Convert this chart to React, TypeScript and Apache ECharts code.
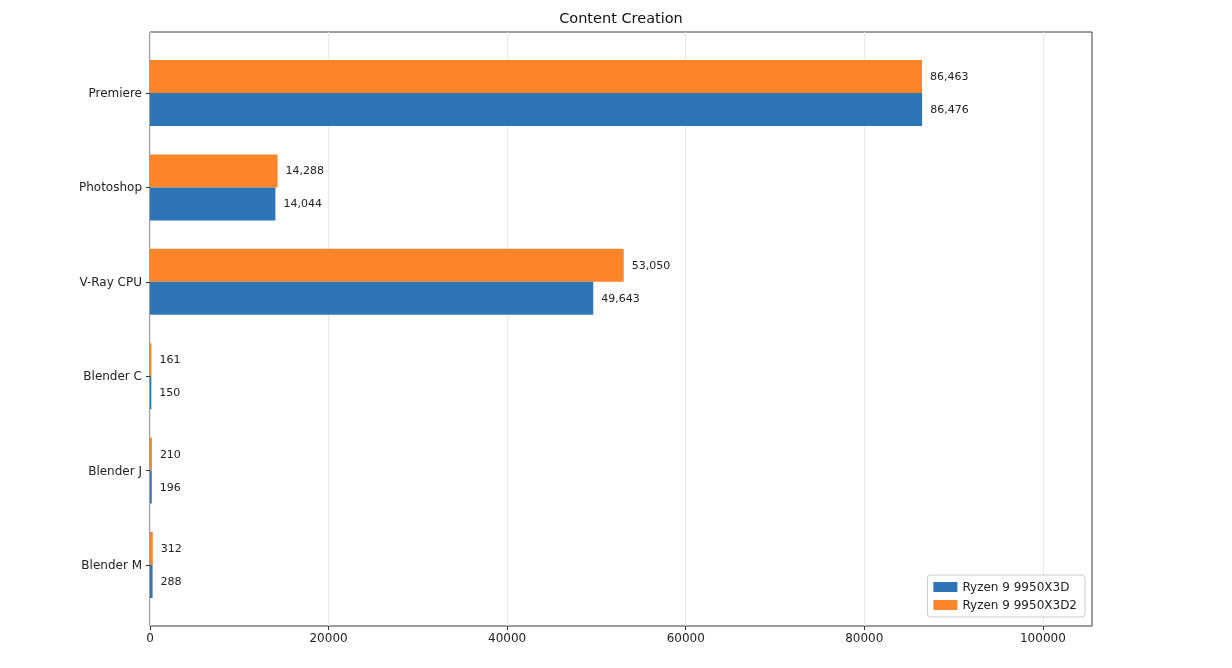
import React, { useEffect, useRef } from "react";
import * as echarts from "echarts";

const categories = ["Premiere", "Photoshop", "V-Ray CPU", "Blender C", "Blender J", "Blender M"];
const seriesNames = ["Ryzen 9 9950X3D", "Ryzen 9 9950X3D2"];
const x3dValues = [86476, 14044, 49643, 150, 196, 288];
const x3d2Values = [86463, 14288, 53050, 161, 210, 312];
const xTicks = [0, 20000, 40000, 60000, 80000, 100000];
const xMax = 105500;

const FONT = "DejaVu Sans";

export default function App() {
  const ref = useRef<HTMLDivElement>(null);
  useEffect(() => {
    if (!ref.current) return;
    const chart = echarts.init(ref.current, null, { renderer: "svg" });
    const fmt = (p: any) => Number(p.value).toLocaleString("en-US");
    const label = {
      show: true,
      position: "right",
      distance: 8,
      formatter: fmt,
      fontFamily: FONT,
      fontSize: 11,
      color: "#222",
    };
    chart.setOption({
      animation: false,
      title: {
        text: "Content Creation",
        left: 616,
        textAlign: "center",
        top: 5,
        textStyle: { fontFamily: FONT, fontSize: 14.5, fontWeight: "normal", color: "#111" },
      },
      legend: {
        data: seriesNames,
        orient: "vertical",
        right: 147,
        bottom: 51,
        itemWidth: 24,
        itemHeight: 10,
        itemGap: 6,
        padding: [6, 8, 6, 6],
        borderColor: "#cccccc",
        borderWidth: 1,
        borderRadius: 3,
        backgroundColor: "rgba(255,255,255,0.8)",
        textStyle: { fontFamily: FONT, fontSize: 12, color: "#222" },
        icon: "rect",
      },
      grid: [
        { left: 150, top: 32, width: 942, height: 594, show: true, borderColor: "#3a3a3a", borderWidth: 1, backgroundColor: "transparent" },
        { left: 150, top: 45.8, width: 942, height: 566.4 },
      ],
      xAxis: [
        {
          type: "value",
          gridIndex: 0,
          min: 0,
          max: xMax,
          interval: 20000,
          axisLine: { show: false },
          axisTick: { show: true, length: 4, lineStyle: { color: "#333" }, customValues: xTicks },
          axisLabel: {
            customValues: xTicks,
            formatter: (v: number) => String(v),
            fontFamily: FONT,
            fontSize: 12,
            color: "#222",
            margin: 6,
          },
          splitLine: { show: true, lineStyle: { color: "#e8e8e8", width: 1 } },
        },
        {
          type: "value",
          gridIndex: 1,
          min: 0,
          max: xMax,
          show: false,
        },
      ],
      yAxis: [
        { type: "value", gridIndex: 0, show: false },
        {
          type: "category",
          gridIndex: 1,
          data: categories,
          inverse: true,
          axisLine: { show: false },
          axisTick: { show: true, alignWithLabel: true, length: 4, lineStyle: { color: "#333" } },
          axisLabel: { fontFamily: FONT, fontSize: 12, color: "#222", margin: 8 },
          splitLine: { show: false },
        },
      ],
      series: [
        {
          name: seriesNames[1],
          type: "bar",
          xAxisIndex: 1,
          yAxisIndex: 1,
          data: x3d2Values,
          barWidth: 33,
          barGap: "0%",
          itemStyle: { color: "#fd8529" },
          label,
        },
        {
          name: seriesNames[0],
          type: "bar",
          xAxisIndex: 1,
          yAxisIndex: 1,
          data: x3dValues,
          barWidth: 33,
          barGap: "0%",
          itemStyle: { color: "#2e75b6" },
          label,
        },
      ],
    });
    return () => chart.dispose();
  }, []);
  return <div ref={ref} style={{ position: "fixed", left: 0, top: 0, width: 1232, height: 668 }} />;
}
